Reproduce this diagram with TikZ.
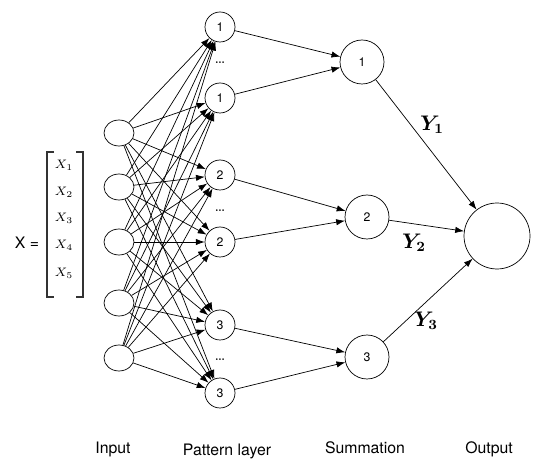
\documentclass[tikz,border=0pt]{standalone}
\usepackage{fontspec}
\setsansfont{TeX Gyre Heros}
\usepackage{amsmath,bm}
\usetikzlibrary{arrows.meta,shapes.geometric}

\begin{document}
\begin{tikzpicture}[x=0.02cm,y=-0.02cm,>={Latex[length=5pt,width=3.6pt]},
    inp/.style={draw,ellipse,minimum width=0.6cm,minimum height=0.52cm,inner sep=0pt},
    pat/.style={draw,circle,minimum size=0.6cm,inner sep=0pt,font=\sffamily\scriptsize},
    sumn/.style={draw,circle,minimum size=0.88cm,inner sep=0pt,font=\sffamily\scriptsize},
    caption/.style={font=\sffamily\small}]
    \useasboundingbox (0,0) rectangle (540,475);

    % Input vector
    \node[font=\sffamily\small] (xeq) at (27,243) {X =};
    \draw[line width=0.6pt,black!80] (54,152) -| (47,297) -- (54,297);
    \draw[line width=0.6pt,black!80] (76,152) -| (83,297) -- (76,297);
    \foreach \k/\y in {1/165,2/192,3/218,4/245,5/273}
        \node[font=\scriptsize] (x\k) at (64,\y) {$X_{\k}$};

    % Input layer
    \foreach \i/\y in {1/133,2/187,3/242,4/303,5/358}
        \node[inp] (in\i) at (119,\y) {};

    % Pattern layer
    \foreach \j/\y/\t in {1/27/1,2/98/1,3/175/2,4/242/2,5/325/3,6/393/3}
        \node[pat] (p\j) at (220,\y) {\t};
    \foreach \k/\y in {1/63,2/211,3/360}
        \node[font=\small] (dots\k) at (220,\y) {\ldots};

    % Summation and output
    \node[sumn] (s1) at (362,62) {1};
    \node[sumn] (s2) at (367,217) {2};
    \node[sumn] (s3) at (367,357) {3};
    \node[draw,circle,minimum size=1.32cm] (out) at (497,236) {};

    % Connections
    \foreach \i in {1,...,5}
        \foreach \j in {1,...,6}
            \draw[->] (in\i) -- (p\j);
    \draw[->] (p1) -- (s1);
    \draw[->] (p2) -- (s1);
    \draw[->] (p3) -- (s2);
    \draw[->] (p4) -- (s2);
    \draw[->] (p5) -- (s3);
    \draw[->] (p6) -- (s3);
    \draw[->] (s1) -- (out);
    \draw[->] (s2) -- (out);
    \draw[->] (s3) -- (out);
    \node[font=\large] (y1) at (432,125) {$\bm{Y}_{\bm{1}}$};
    \node[font=\large] (y2) at (414,243) {$\bm{Y}_{\bm{2}}$};
    \node[font=\large] (y3) at (426,321) {$\bm{Y}_{\bm{3}}$};

    % Layer names
    \node[caption] (lin) at (113,449) {Input};
    \node[caption] (lpat) at (227,451) {Pattern layer};
    \node[caption] (lsum) at (365,448) {Summation};
    \node[caption] (lout) at (489,449) {Output};
\end{tikzpicture}
\end{document}
